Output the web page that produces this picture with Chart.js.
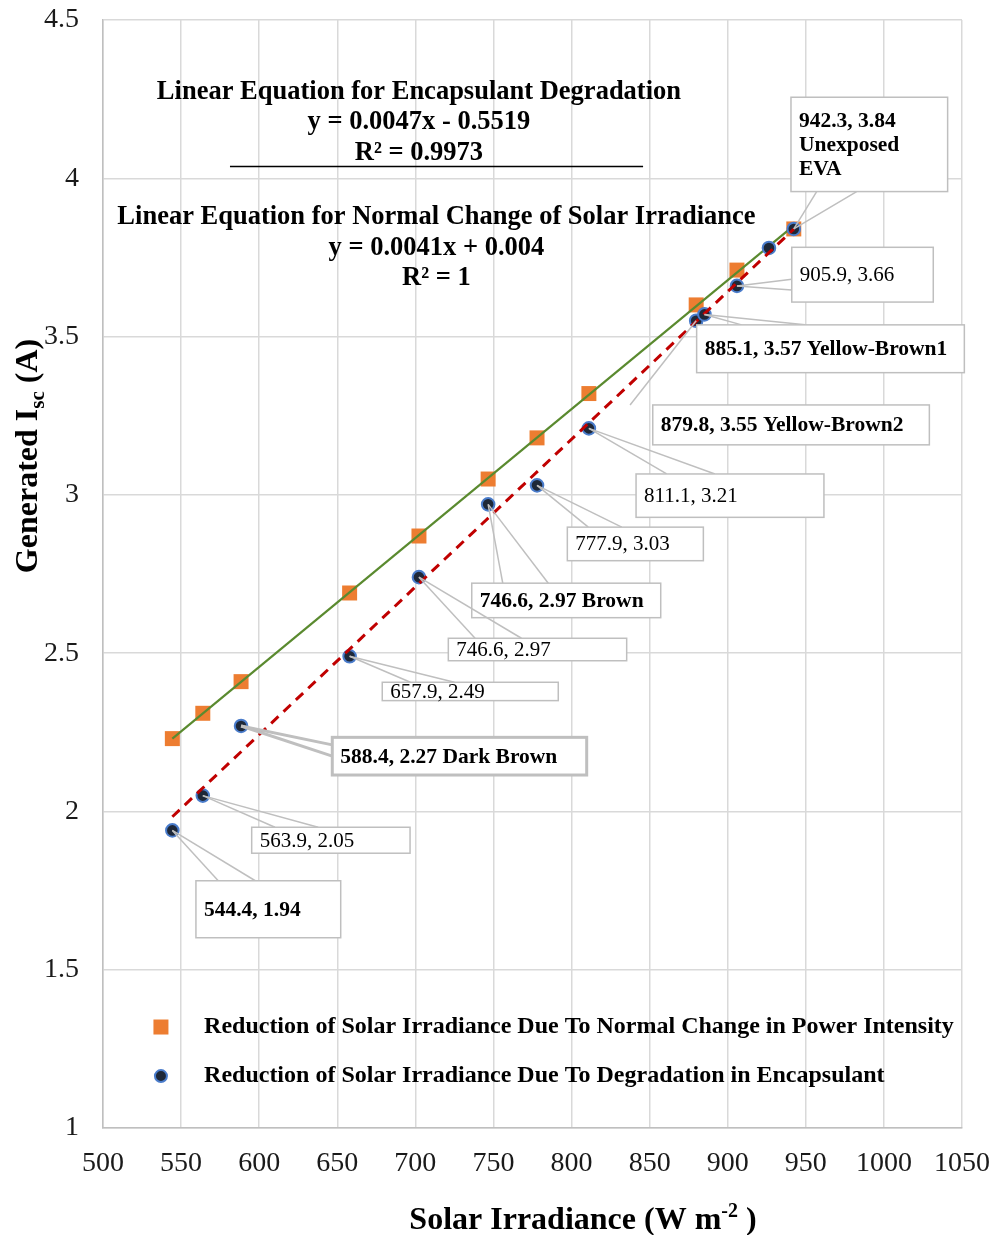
<!DOCTYPE html>
<html>
<head>
<meta charset="utf-8">
<script src="https://cdn.jsdelivr.net/npm/chart.js@4.4.1/dist/chart.umd.min.js"></script>
<style>
  html, body { margin: 0; padding: 0; background: #ffffff; }
  #wrap { width: 995px; height: 1235px; position: relative; }
</style>
</head>
<body>
<div id="wrap"><canvas id="chart" width="995" height="1235"></canvas></div>
<script>
// Irradiance and short-circuit current when irradiance simply drops
const normalIrradiance = [544.4, 563.9, 588.4, 657.9, 702.3, 746.6, 777.9, 811.1, 879.8, 905.9, 942.3];
const normalIsc        = [2.23, 2.31, 2.41, 2.69, 2.87, 3.05, 3.18, 3.32, 3.60, 3.71, 3.84];

// Irradiance and short-circuit current behind degraded (discoloured) EVA
const degradedIrradiance = [544.4, 563.9, 588.4, 657.9, 702.3, 746.6, 777.9, 811.1, 879.8, 885.1, 905.9, 926.4, 942.3];
const degradedIsc        = [1.94, 2.05, 2.27, 2.49, 2.74, 2.97, 3.03, 3.21, 3.55, 3.57, 3.66, 3.78, 3.84];

const xTicks = [500, 550, 600, 650, 700, 750, 800, 850, 900, 950, 1000, 1050];
const yTicks = [1, 1.5, 2, 2.5, 3, 3.5, 4, 4.5];

const seriesNames = [
  'Reduction of Solar Irradiance Due To Normal Change in Power Intensity',
  'Reduction of Solar Irradiance Due To Degradation in Encapsulant'
];

const FONT = '"Liberation Serif", "Times New Roman", serif';
const ORANGE = '#ED7D31';
const NAVY = '#1E2838';
const BLUE_EDGE = '#4A7CCB';
const GREEN = '#5A8A2F';
const RED = '#C00000';
const GRID = '#D9D9D9';
const CALLOUT_EDGE = '#BFBFBF';

// least-squares straight line through a series
function linearFit(xs, ys) {
  const n = xs.length;
  const mx = xs.reduce((a, b) => a + b, 0) / n;
  const my = ys.reduce((a, b) => a + b, 0) / n;
  let sxy = 0, sxx = 0;
  for (let i = 0; i < n; i++) {
    sxy += (xs[i] - mx) * (ys[i] - my);
    sxx += (xs[i] - mx) * (xs[i] - mx);
  }
  const slope = sxy / sxx;
  return { slope, intercept: my - slope * mx };
}
function trendPoints(xs, ys) {
  const f = linearFit(xs, ys);
  const lo = Math.min(...xs), hi = Math.max(...xs);
  return [{ x: lo, y: f.slope * lo + f.intercept }, { x: hi, y: f.slope * hi + f.intercept }];
}
const toPoints = (xs, ys) => xs.map((v, i) => ({ x: v, y: ys[i] }));

// Data callouts on the degraded series: box in axis units [left, top, right, bottom],
// the edge the pointer leaves from and where along that edge it starts/ends.
const callouts = [
  { i: 12, lines: ['942.3, 3.84', 'Unexposed', 'EVA'], bold: true, box: [940.5, 4.256, 1040.8, 3.958], side: 'bottom', wedge: [0.164, 0.419] },
  { i: 10, lines: ['905.9, 3.66'], bold: false, box: [941.0, 3.782, 1031.6, 3.609], side: 'left', wedge: [0.585, 0.78] },
  { i: 9,  lines: ['885.1, 3.57 Yellow-Brown1'], bold: true, box: [880.1, 3.537, 1051.5, 3.386], side: 'top', wedge: [0.168, 0.405] },
  { i: 8,  lines: ['879.8, 3.55 Yellow-Brown2'], bold: true, box: [852.0, 3.284, 1029.1, 3.158], side: 'top', wedge: [-0.082] },
  { i: 7,  lines: ['811.1, 3.21'], bold: false, box: [841.3, 3.066, 961.6, 2.929], side: 'top', wedge: [0.163, 0.42] },
  { i: 6,  lines: ['777.9, 3.03'], bold: false, box: [797.3, 2.898, 884.4, 2.792], side: 'top', wedge: [0.154, 0.40] },
  { i: 5,  lines: ['746.6, 2.97 Brown'], bold: true, box: [736.1, 2.721, 857.1, 2.612], side: 'top', wedge: [0.164, 0.405] },
  { i: 4,  lines: ['746.6, 2.97'], bold: false, box: [721.1, 2.547, 835.3, 2.476], side: 'top', wedge: [0.15, 0.41] },
  { i: 3,  lines: ['657.9, 2.49'], bold: false, box: [678.8, 2.408, 791.5, 2.350], side: 'top', wedge: [0.16, 0.41] },
  { i: 2,  lines: ['588.4, 2.27 Dark Brown'], bold: true, heavy: true, box: [646.8, 2.234, 809.7, 2.115], side: 'left', wedge: [0.2, 0.5] },
  { i: 1,  lines: ['563.9, 2.05'], bold: false, box: [595.2, 1.950, 696.6, 1.868], side: 'top', wedge: [0.147, 0.42] },
  { i: 0,  lines: ['544.4, 1.94'], bold: true, box: [559.5, 1.781, 652.2, 1.601], side: 'top', wedge: [0.154, 0.41] }
];

// Equation blocks (centre x, centre y per line, in axis units)
const equationBlocks = [
  { x: 702.3, ys: [4.273, 4.178, 4.080],
    lines: ['Linear Equation for Encapsulant Degradation', 'y = 0.0047x - 0.5519', 'R\u00B2 = 0.9973'] },
  { x: 713.5, ys: [3.878, 3.780, 3.685],
    lines: ['Linear Equation for Normal Change of Solar Irradiance', 'y = 0.0041x + 0.004', 'R\u00B2 = 1'] }
];
const separator = { x1: 581.3, x2: 845.8, y: 4.039 };
const legendSpot = { markerX: 537.1, textX: 564.7, ys: [1.319, 1.164] };

function edgePoint(side, f, L, T, R, B) {
  if (side === 'top') return [L + f * (R - L), T];
  if (side === 'bottom') return [L + f * (R - L), B];
  if (side === 'left') return [L, T + f * (B - T)];
  return [R, T + f * (B - T)];
}

function drawRich(ctx, parts, x, y, align) {
  // parts: [{t, size, dy}] all bold
  let total = 0;
  parts.forEach(p => { ctx.font = `bold ${p.size}px ${FONT}`; p.w = ctx.measureText(p.t).width; total += p.w; });
  let cx = align === 'center' ? x - total / 2 : x;
  ctx.textAlign = 'left';
  ctx.textBaseline = 'alphabetic';
  parts.forEach(p => { ctx.font = `bold ${p.size}px ${FONT}`; ctx.fillText(p.t, cx, y + (p.dy || 0)); cx += p.w; });
}

const overlay = {
  id: 'overlay',
  afterDatasetsDraw(chart) {
    const { ctx, scales: { x, y } } = chart;
    ctx.save();

    // equation blocks
    ctx.fillStyle = '#000';
    ctx.textAlign = 'center';
    ctx.textBaseline = 'middle';
    ctx.font = `bold 26.5px ${FONT}`;
    equationBlocks.forEach(b => {
      const cx = x.getPixelForValue(b.x);
      b.lines.forEach((t, k) => ctx.fillText(t, cx, y.getPixelForValue(b.ys[k])));
    });
    ctx.strokeStyle = '#000';
    ctx.lineWidth = 1.3;
    ctx.beginPath();
    const sy = Math.round(y.getPixelForValue(separator.y)) + 0.5;
    ctx.moveTo(x.getPixelForValue(separator.x1), sy);
    ctx.lineTo(x.getPixelForValue(separator.x2), sy);
    ctx.stroke();

    // callouts
    callouts.forEach(c => {
      const px = x.getPixelForValue(degradedIrradiance[c.i]);
      const py = y.getPixelForValue(degradedIsc[c.i]);
      const L = x.getPixelForValue(c.box[0]), T = y.getPixelForValue(c.box[1]);
      const R = x.getPixelForValue(c.box[2]), B = y.getPixelForValue(c.box[3]);
      ctx.strokeStyle = CALLOUT_EDGE;
      ctx.lineWidth = c.heavy ? 3 : 1.5;
      c.wedge.forEach(f => {
        const [bx, by] = edgePoint(c.side, f, L, T, R, B);
        ctx.beginPath();
        ctx.moveTo(px, py);
        ctx.lineTo(bx, by);
        ctx.stroke();
      });
      ctx.fillStyle = '#fff';
      ctx.fillRect(L, T, R - L, B - T);
      ctx.strokeRect(L, T, R - L, B - T);
      ctx.fillStyle = '#000';
      ctx.textAlign = 'left';
      ctx.textBaseline = 'middle';
      ctx.font = c.bold ? `bold 21.5px ${FONT}` : `21px ${FONT}`;
      const lh = 24.2;
      const start = (T + B) / 2 - (c.lines.length - 1) * lh / 2;
      c.lines.forEach((t, k) => ctx.fillText(t, L + 8, start + k * lh + 1));
    });

    // legend
    const mx = x.getPixelForValue(legendSpot.markerX);
    const tx = x.getPixelForValue(legendSpot.textX);
    const ly0 = y.getPixelForValue(legendSpot.ys[0]);
    const ly1 = y.getPixelForValue(legendSpot.ys[1]);
    ctx.fillStyle = ORANGE;
    ctx.fillRect(mx - 7.5, ly0 - 7.5, 15, 15);
    ctx.beginPath();
    ctx.arc(mx, ly1, 6, 0, Math.PI * 2);
    ctx.fillStyle = NAVY;
    ctx.fill();
    ctx.lineWidth = 2;
    ctx.strokeStyle = BLUE_EDGE;
    ctx.stroke();
    ctx.fillStyle = '#000';
    ctx.textAlign = 'left';
    ctx.textBaseline = 'middle';
    ctx.font = `bold 24px ${FONT}`;
    ctx.fillText(seriesNames[0], tx, ly0);
    ctx.fillText(seriesNames[1], tx, ly1);

    ctx.restore();
  },
  afterDraw(chart) {
    const { ctx, chartArea } = chart;
    ctx.save();
    ctx.fillStyle = '#000';
    // x-axis title
    drawRich(ctx, [
      { t: 'Solar Irradiance (W m', size: 32 },
      { t: '-2', size: 20, dy: -12 },
      { t: ' )', size: 32 }
    ], chartArea.left + 480, chartArea.bottom + 101, 'center');
    // y-axis title
    ctx.translate(chartArea.left - 66, chartArea.top + 436);
    ctx.rotate(-Math.PI / 2);
    drawRich(ctx, [
      { t: 'Generated I', size: 32 },
      { t: 'sc', size: 21, dy: 7 },
      { t: ' (A)', size: 32 }
    ], 0, 0, 'center');
    ctx.restore();
  }
};

// the plot area is fixed by the layout padding, not by tick-label overhang
function dropOverhang(axis) {
  axis.paddingTop = 0;
  axis.paddingBottom = 0;
  axis.paddingLeft = 0;
  axis.paddingRight = 0;
}

Chart.defaults.font.family = FONT;
Chart.defaults.color = '#1a1a1a';

new Chart(document.getElementById('chart'), {
  type: 'scatter',
  data: {
    datasets: [
      {
        label: seriesNames[0],
        data: toPoints(normalIrradiance, normalIsc),
        pointStyle: 'rect',
        pointRadius: 10.6,
        backgroundColor: ORANGE,
        borderWidth: 0,
        order: 4
      },
      {
        label: 'Linear (normal change)',
        data: trendPoints(normalIrradiance, normalIsc),
        showLine: true,
        pointRadius: 0,
        borderColor: GREEN,
        borderWidth: 2.2,
        order: 3
      },
      {
        label: seriesNames[1],
        data: toPoints(degradedIrradiance, degradedIsc),
        pointStyle: 'circle',
        pointRadius: 6.3,
        backgroundColor: NAVY,
        borderColor: BLUE_EDGE,
        borderWidth: 2,
        order: 2
      },
      {
        label: 'Linear (encapsulant degradation)',
        data: trendPoints(degradedIrradiance, degradedIsc),
        showLine: true,
        pointRadius: 0,
        borderColor: RED,
        borderWidth: 3,
        borderDash: [10, 7],
        order: 1
      }
    ]
  },
  options: {
    responsive: false,
    animation: false,
    devicePixelRatio: 1,
    layout: { padding: { top: 20, right: 33, left: 0, bottom: 0 } },
    plugins: { legend: { display: false }, tooltip: { enabled: false } },
    scales: {
      x: {
        type: 'linear',
        min: xTicks[0],
        max: xTicks[xTicks.length - 1],
        afterBuildTicks: axis => { axis.ticks = xTicks.map(v => ({ value: v })); },
        afterFit: axis => { axis.height = 107; dropOverhang(axis); },
        ticks: { font: { size: 28 }, padding: 19, maxRotation: 0, autoSkip: false, color: '#1a1a1a',
                 callback: v => String(v) },
        grid: { color: GRID, lineWidth: 1.5, drawTicks: false },
        border: { color: '#BFBFBF', width: 1.5 }
      },
      y: {
        type: 'linear',
        min: yTicks[0],
        max: yTicks[yTicks.length - 1],
        afterBuildTicks: axis => { axis.ticks = yTicks.map(v => ({ value: v })); },
        afterFit: axis => { axis.width = 103; dropOverhang(axis); },
        ticks: { font: { size: 28 }, padding: 24, autoSkip: false, color: '#1a1a1a',
                 callback: v => String(v) },
        grid: { color: GRID, lineWidth: 1.5, drawTicks: false },
        border: { color: '#BFBFBF', width: 1.5 }
      }
    }
  },
  plugins: [overlay]
});
</script>
</body>
</html>
